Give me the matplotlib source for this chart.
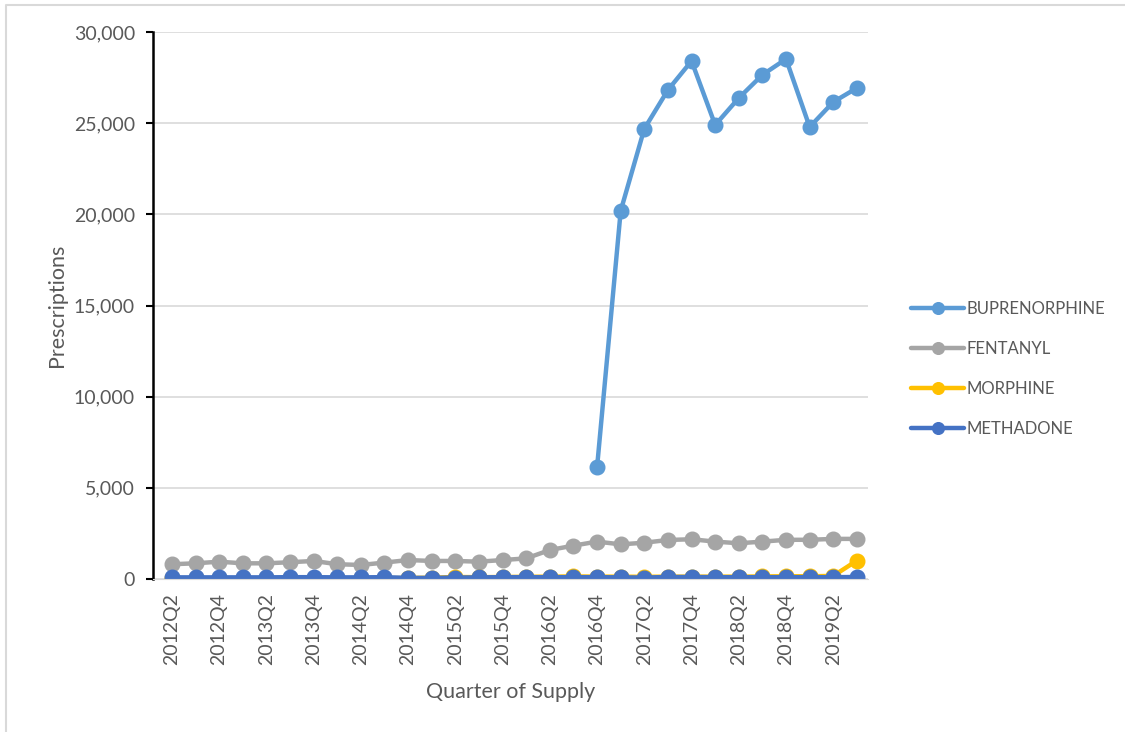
import numpy as np
import matplotlib.pyplot as plt
from matplotlib.ticker import FuncFormatter
from matplotlib.lines import Line2D

# quarters 2012Q2 .. 2019Q3
quarters = [f'{y}Q{q}' for y in range(2012, 2020) for q in range(1, 5)][1:-1]

buprenorphine = [np.nan] * 18 + [6130, 20190, 24690, 26820, 28410, 24900,
                                 26380, 27650, 28520, 24790, 26160, 26930]
fentanyl = [810, 860, 950, 860, 860, 920, 990, 810, 770, 900,
            1040, 990, 990, 950, 1040, 1130, 1590, 1830, 2050, 1900,
            1990, 2140, 2180, 2050, 1960, 2050, 2150, 2150, 2200, 2200]
morphine = [40, 40, 40, 40, 40, 40, 50, 40, 40, 40,
            60, 70, 110, 100, 110, 120, 130, 140, 130, 130,
            120, 130, 130, 130, 130, 140, 150, 150, 170, 1010]
methadone = [90, 90, 90, 90, 90, 100, 100, 90, 90, 100,
             60, 60, 80, 90, 100, 100, 100, 100, 100, 90,
             80, 110, 110, 100, 100, 100, 100, 100, 100, 110]

series = [('BUPRENORPHINE', buprenorphine, '#5B9BD5'),
          ('FENTANYL', fentanyl, '#A5A5A5'),
          ('MORPHINE', morphine, '#FFC000'),
          ('METHADONE', methadone, '#4472C4')]

plt.rcParams['font.family'] = ['Lato', 'DejaVu Sans']
txt = '#595959'

fig = plt.figure(figsize=(11.25, 7.32), dpi=100)
ax = fig.add_axes([153 / 1125, 1 - 579 / 732, (868 - 153) / 1125, (579 - 32) / 732])

x = np.arange(len(quarters))
for name, vals, col in series:
    ax.plot(x, vals, color=col, lw=3.2, marker='o', ms=10.5, label=name,
            solid_capstyle='round')

ax.set_xlim(-0.80, len(quarters) - 0.53)
ax.set_ylim(0, 30000)
ax.set_yticks(np.arange(0, 30001, 5000))
ax.yaxis.set_major_formatter(FuncFormatter(lambda v, p: f'{int(v):,}'))
ax.grid(axis='y', color='#D9D9D9', lw=1.2)
ax.set_axisbelow(True)

ax.set_xticks(x[::2])
ax.set_xticklabels(quarters[::2], rotation=90)
ax.tick_params(axis='x', length=0, labelsize=14, colors=txt, pad=10)
ax.tick_params(axis='y', length=5, width=1.5, color='black', labelsize=14,
               labelcolor=txt, pad=8)

for s in ['top', 'right']:
    ax.spines[s].set_visible(False)
ax.spines['bottom'].set_color('#D9D9D9')
ax.spines['left'].set_color('black')
ax.spines['left'].set_linewidth(1.8)

ax.set_xlabel('Quarter of Supply', fontsize=15.5, color=txt, labelpad=12)
ax.set_ylabel('Prescriptions', fontsize=15.5, color=txt, labelpad=5)

leg = fig.legend(loc='center left', bbox_to_anchor=(896 / 1125, 1 - 369 / 732),
                 frameon=False, fontsize=12, labelspacing=1.45,
                 handlelength=3.2, handletextpad=0.1, markerscale=0.8)
for t in leg.get_texts():
    t.set_color(txt)

# thin frame on the top and left edge of the chart area
fig.lines.append(Line2D([6 / 1125, 6 / 1125, 1], [0, 727 / 732, 727 / 732],
                        transform=fig.transFigure, color='#D9D9D9', lw=1.5))

fig.savefig('out.png', dpi=100)
